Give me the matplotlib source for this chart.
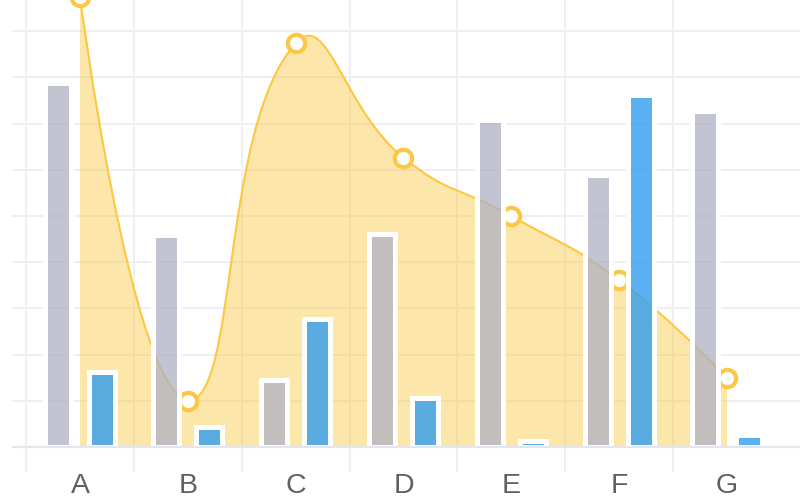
import numpy as np
import matplotlib
matplotlib.use("Agg")
import matplotlib.pyplot as plt
from matplotlib.path import Path
from matplotlib.patches import PathPatch

categories = ["A", "B", "C", "D", "E", "F", "G"]
gray_values = [78.7, 45.8, 14.4, 46.2, 70.7, 58.8, 72.8]
blue_values = [16.3, 4.4, 27.8, 10.5, 1.2, 76.1, 2.5]
line_values = [97.4, 10.0, 87.4, 62.6, 50.0, 36.1, 14.9]
y_grid = [0, 10, 20, 30, 40, 50, 60, 70, 80, 90]

GRAY = (175/255, 177/255, 196/255, 0.75)
BLUE = (54/255, 159/255, 237/255, 0.82)
YELLOW = "#fcc844"
GRID = "#eeeff3"
AXIS = "#e3e6ee"
LABEL = "#606060"

fig = plt.figure(figsize=(8, 5), dpi=100)
ax = fig.add_axes([0, 0, 1, 1])
ax.axis("off")
ax.set_xlim(-80/107.83, 720/107.83)
ax.set_ylim((447-500)/4.62, 447/4.62)

x = np.arange(len(categories))

# grid
ax.hlines([g for g in y_grid if g != 0], (12-80)/107.83, 720/107.83,
          color=GRID, lw=1.4, zorder=1)
ax.vlines(x - 0.5, (447-472)/4.62, 447/4.62, color=GRID, lw=1.4, zorder=1)
ax.hlines([0], (12-80)/107.83, 720/107.83, color=AXIS, lw=1.6, zorder=6)


def smooth_path(xs, ys, smooth=0.5):
    pts = ax.transData.transform(np.column_stack([xs, ys]))
    n = len(pts)
    mn = pts.min(axis=0)
    mx = pts.max(axis=0)
    verts = [pts[0]]
    codes = [Path.MOVETO]
    cp0 = pts[0].copy()
    for i in range(1, n):
        p = pts[i]
        prev = pts[i-1]
        if i == n - 1:
            cp1 = p.copy()
            ncp0 = None
        else:
            nxt = pts[i+1]
            v = nxt - prev
            lp = np.hypot(*(p - prev))
            ln = np.hypot(*(nxt - p))
            r = ln / (ln + lp)
            cp1 = p - v * smooth * (1 - r)
            ncp0 = p + v * smooth * r
        cp0 = np.clip(cp0, mn, mx)
        cp1 = np.clip(cp1, mn, mx)
        verts += [cp0, cp1, p]
        codes += [Path.CURVE4] * 3
        cp0 = ncp0
    inv = ax.transData.inverted()
    return inv.transform(np.array(verts)), codes


verts, codes = smooth_path(x, line_values)
line_path = Path(verts, codes)
area_verts = np.vstack([verts, [[x[-1], 0], [x[0], 0], verts[0]]])
area_codes = codes + [Path.LINETO, Path.LINETO, Path.CLOSEPOLY]
ax.add_patch(PathPatch(Path(area_verts, area_codes), facecolor=YELLOW,
                       alpha=0.45, edgecolor="none", zorder=2))
ax.add_patch(PathPatch(line_path, facecolor="none", edgecolor=YELLOW,
                       lw=1.5, zorder=3))
ax.plot(x, line_values, linestyle="none", marker="o", ms=12.5,
        mfc="white", mec=YELLOW, mew=3, zorder=4, clip_on=True)

bw = 26/107.83
ax.bar(x - 0.2, gray_values, width=bw, facecolor=GRAY, edgecolor="white",
       linewidth=3.6, zorder=5)
ax.bar(x + 0.2, blue_values, width=bw, facecolor=BLUE, edgecolor="white",
       linewidth=3.6, zorder=5)

for xi, lab in zip(x, categories):
    ax.text(xi, (447-499.3)/4.62, lab, ha="center", va="bottom",
            fontsize=20.5, color=LABEL, family="Liberation Sans", zorder=7)

fig.savefig("out.png", dpi=100)
